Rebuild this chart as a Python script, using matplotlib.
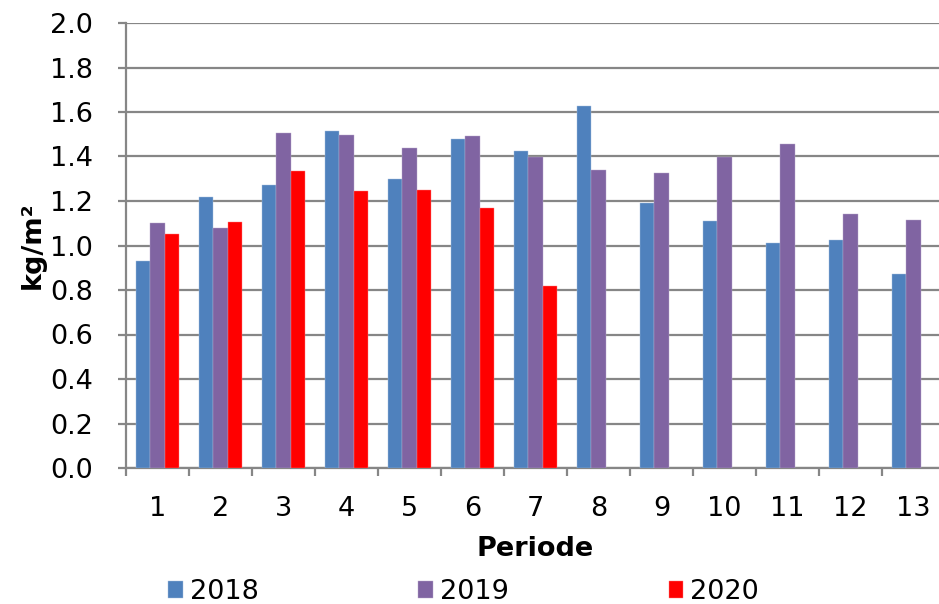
"""Bar chart: kg/m² per periode, 2018-2020."""
import numpy as np
import matplotlib
matplotlib.use("Agg")
import matplotlib.pyplot as plt

periods = [str(i) for i in range(1, 14)]
v2018 = [0.93, 1.22, 1.27, 1.515, 1.30, 1.48, 1.425, 1.625, 1.19, 1.11, 1.01, 1.025, 0.87]
v2019 = [1.10, 1.08, 1.505, 1.495, 1.44, 1.49, 1.40, 1.34, 1.325, 1.40, 1.455, 1.14, 1.115]
v2020 = [1.05, 1.105, 1.335, 1.245, 1.25, 1.17, 0.82]
years = ["2018", "2019", "2020"]
colors = ["#4F81BD", "#8064A2", "#FF0000"]
edges = ["#A7C0DE", "#B9A8CC", "#FF8080"]

GRID = "#868686"
FS = 19.5

plt.rcParams["font.family"] = ["DejaVu Sans"]

fig = plt.figure(figsize=(9.39, 6.04), dpi=100)
ax = fig.add_axes([126 / 939, 1 - 468 / 604, (945 - 126) / 939, (468 - 23) / 604])

x = np.arange(len(periods))
w = 0.228
series = [v2018, v2019, v2020]
for k, (vals, name, c, ec) in enumerate(zip(series, years, colors, edges)):
    xs = x[:len(vals)] + (k - 1) * w
    ax.bar(xs, vals, width=w, color=c, edgecolor=ec, linewidth=0.3, label=name, zorder=3)

ax.set_xlim(-0.5, len(periods) - 0.5)
ax.set_ylim(0, 2.0)
ax.set_yticks(np.arange(0, 2.01, 0.2))
ax.set_yticklabels([f"{v:.1f}" for v in np.arange(0, 2.01, 0.2)])
ax.set_xticks(x)
ax.set_xticklabels(periods)
ax.set_xticks(np.arange(-0.5, len(periods), 1.0), minor=True)

ax.grid(axis="y", color=GRID, linewidth=1.6, zorder=0)
for s in ("top", "right"):
    ax.spines[s].set_visible(False)
for s in ("left", "bottom"):
    ax.spines[s].set_color(GRID)
    ax.spines[s].set_linewidth(1.6)

ax.tick_params(axis="y", length=6, width=1.6, color=GRID, pad=18, labelsize=FS)
ax.tick_params(axis="x", which="major", length=0, pad=20, labelsize=FS)
ax.tick_params(axis="x", which="minor", length=6, width=1.6, color=GRID)

ax.set_xlabel("Periode", fontsize=FS, fontweight="bold", labelpad=10)
ax.set_ylabel("kg/m²", fontsize=FS, fontweight="bold", labelpad=3)

fig.legend(loc="lower left", bbox_to_anchor=(157 / 939, -0.02), ncol=3,
           frameon=False, fontsize=FS, handlelength=0.55, handleheight=0.6,
           handletextpad=0.25, columnspacing=5.9, borderaxespad=0)

fig.savefig("out.png", dpi=100)
